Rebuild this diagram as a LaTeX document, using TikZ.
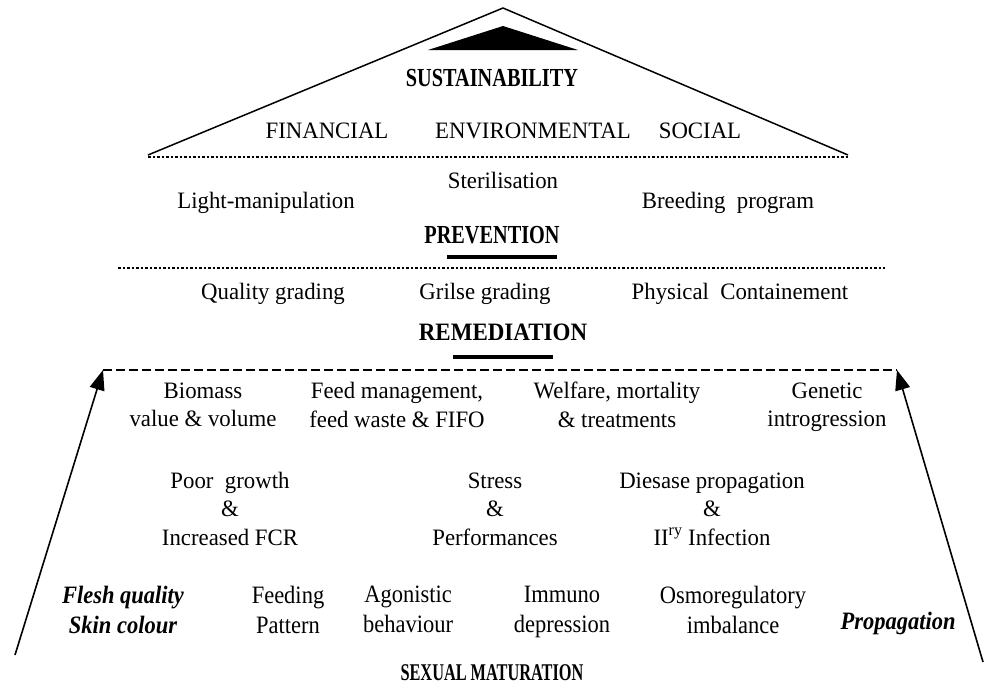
\documentclass[tikz,border=0pt]{standalone}
\usepackage{fontspec}
\setmainfont{Liberation Serif}
\newfontfamily\mainf[FakeStretch=0.97]{Liberation Serif}
\newfontfamily\botf[FakeStretch=0.9]{Liberation Serif}
\newfontfamily\headf[FakeStretch=0.78]{Liberation Serif}
\newfontfamily\remf[FakeStretch=0.92]{Liberation Serif}
\newfontfamily\sexf[FakeStretch=0.68]{Liberation Serif}
\usetikzlibrary{arrows.meta}
\begin{document}
\begin{tikzpicture}[x=1pt,y=-1pt,
  txt/.style={inner sep=0pt,align=center,font=\mainf\fontsize{23.5}{28.5}\selectfont,
    execute at begin node=\strut,execute at end node=\strut},
  bot/.style={inner sep=0pt,align=center,font=\botf\fontsize{25}{30}\selectfont,
    execute at begin node=\strut,execute at end node=\strut},
  boti/.style={bot,font=\botf\bfseries\itshape\fontsize{25}{30}\selectfont},
  head/.style={inner sep=0pt,font=\headf\bfseries\fontsize{26}{30}\selectfont},
  roof/.style={line width=1.5pt,line join=miter},
  dotline/.style={line width=2.5pt,dash pattern=on 2.5pt off 2pt},
  dashline/.style={line width=2pt,dash pattern=on 9pt off 4pt},
  bar/.style={line width=4.5pt},
  arr/.style={line width=1.6pt,-{Triangle[length=20pt,width=15pt]}}]
\useasboundingbox (0,0) rectangle (985,697);
% roof
\coordinate (rl) at (148,155);
\coordinate (rt) at (503,8);
\coordinate (rr) at (848,155);
\draw[roof] (rl) -- (rt) -- (rr);
\fill (503,26) -- (578,50) -- (428,50) -- cycle;
\node[head] (sus) at (492,78) {SUSTAINABILITY};
\node[txt] (fin) at (327,133) {FINANCIAL};
\node[txt] (env) at (533,133) {ENVIRONMENTAL};
\node[txt] (soc) at (700,133) {SOCIAL};
\coordinate (d1l) at (148,157);
\coordinate (d1r) at (848,157);
\draw[dotline] (d1l) -- (d1r);
% prevention
\node[txt] (ster) at (503,183) {Sterilisation};
\node[txt] (light) at (266,203) {Light-manipulation};
\node[txt] (breed) at (728,203) {Breeding\ \ program};
\node[head] (prev) at (492,235) {PREVENTION};
\coordinate (b1l) at (447,257);
\coordinate (b1r) at (557,257);
\draw[bar] (b1l) -- (b1r);
\coordinate (d2l) at (118,268);
\coordinate (d2r) at (885,268);
\draw[dotline] (d2l) -- (d2r);
% remediation
\node[txt] (qual) at (273,293.5) {Quality grading};
\node[txt] (gril) at (485,293.5) {Grilse grading};
\node[txt] (phys) at (740,293.5) {Physical\ \ Containement};
\node[inner sep=0pt,font=\remf\bfseries\fontsize{25}{28}\selectfont] (rem) at (503,332) {REMEDIATION};
\coordinate (b2l) at (453,357);
\coordinate (b2r) at (553,357);
\draw[bar] (b2l) -- (b2r);
\coordinate (dl) at (103,370);
\coordinate (dr) at (897,370);
\draw[dashline] (dl) -- (dr);
% arrows
\coordinate (al) at (15,655);
\coordinate (ar) at (983,662);
\draw[arr] (al) -- (dl);
\draw[arr] (ar) -- (dr);
% consequences
\node[txt] (bio) at (203,409) {Biomass\\value \& volume};
\node[txt] (feed) at (397,409) {Feed management,\\feed waste \& FIFO};
\node[txt] (welf) at (617,409) {Welfare, mortality\\\& treatments};
\node[txt] (gen) at (827,409) {Genetic\\introgression};
\node[txt] (poor) at (230,513) {Poor\ \ growth\\\&\\Increased FCR};
\node[txt] (str) at (495,513) {Stress\\\&\\Performances};
\node[txt] (dis) at (712,513) {Diesase propagation\\\&\\II\textsuperscript{ry} Infection};
% causes
\node[boti] (flesh) at (123,614) {Flesh quality\\Skin colour};
\node[bot] (fpat) at (288,614) {Feeding\\Pattern};
\node[bot] (agon) at (408,614) {Agonistic\\behaviour};
\node[bot] (imm) at (562,614) {Immuno\\depression};
\node[bot] (osm) at (733,614) {Osmoregulatory\\imbalance};
\node[boti] (prop) at (898,623) {Propagation};
\node[inner sep=0pt,font=\sexf\bfseries\fontsize{24}{28}\selectfont] (sex) at (492,673) {SEXUAL\,MATURATION};
\end{tikzpicture}
\end{document}
